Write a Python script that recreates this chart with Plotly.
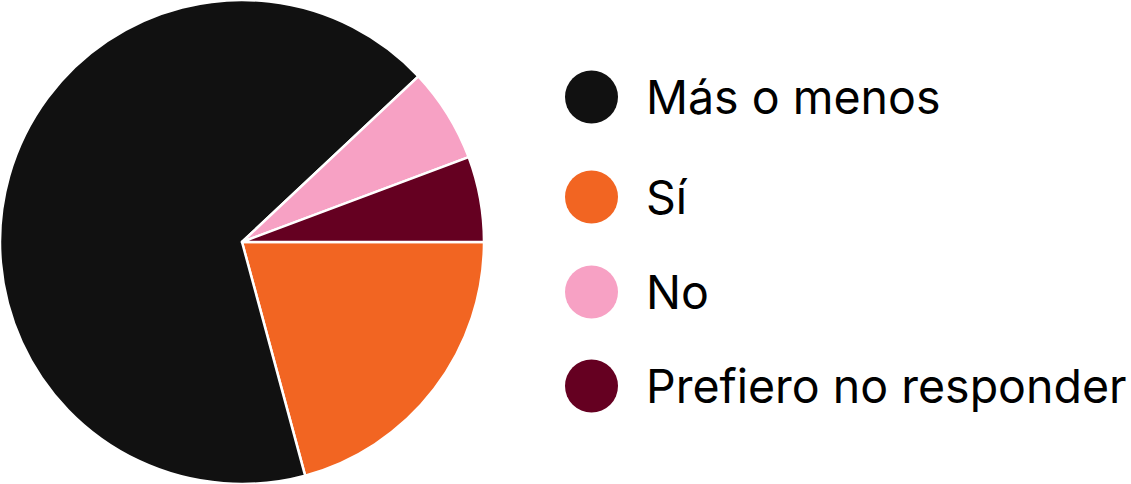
import plotly.graph_objects as go

# legend order (as shown on the right)
categories = ["Más o menos", "Sí", "No", "Prefiero no responder"]
percentages = [67.2, 20.8, 6.3, 5.7]
colors = ["#111111", "#F26522", "#F7A1C4", "#650021"]

# order the slices go round the pie, clockwise from 3 o'clock
pie_order = ["Sí", "Más o menos", "No", "Prefiero no responder"]

W, H = 1131, 484

lookup = dict(zip(categories, zip(percentages, colors)))
pie_values = [lookup[c][0] for c in pie_order]
pie_colors = [lookup[c][1] for c in pie_order]

fig = go.Figure()

fig.add_trace(go.Pie(
    labels=pie_order,
    values=pie_values,
    sort=False,
    direction="clockwise",
    rotation=90,
    marker=dict(colors=pie_colors, line=dict(color="white", width=2.5)),
    textinfo="none",
    hoverinfo="label+percent",
    showlegend=False,
    domain=dict(x=[0, 484 / W], y=[0, 1]),
))

# Hand-made legend: big dots + labels
dot_x = 591.5
text_x = 645
row_y = [97, 197, 292, 386]
shapes = []
annotations = []
for cat, col, yy in zip(categories, colors, row_y):
    shapes.append(dict(
        type="circle", xref="paper", yref="paper",
        xsizemode="pixel", ysizemode="pixel",
        xanchor=dot_x / W, yanchor=1 - yy / H,
        x0=-26.5, x1=26.5, y0=-26.5, y1=26.5,
        fillcolor=col, line=dict(width=0),
    ))
    annotations.append(dict(
        text=cat, xref="paper", yref="paper",
        x=text_x / W, y=1 - yy / H,
        xanchor="left", yanchor="middle",
        showarrow=False, borderpad=0,
        font=dict(family="Inter", size=46.5, color="#000000"),
    ))

fig.update_layout(
    width=W, height=H,
    margin=dict(l=0, r=0, t=0, b=0),
    paper_bgcolor="white",
    plot_bgcolor="white",
    shapes=shapes,
    annotations=annotations,
)

# drop the browser's default 8px body margin so the figure sits at the page corner
fig.write_html("out.html", config={"displayModeBar": False},
               post_script="document.body.style.margin='0';")
